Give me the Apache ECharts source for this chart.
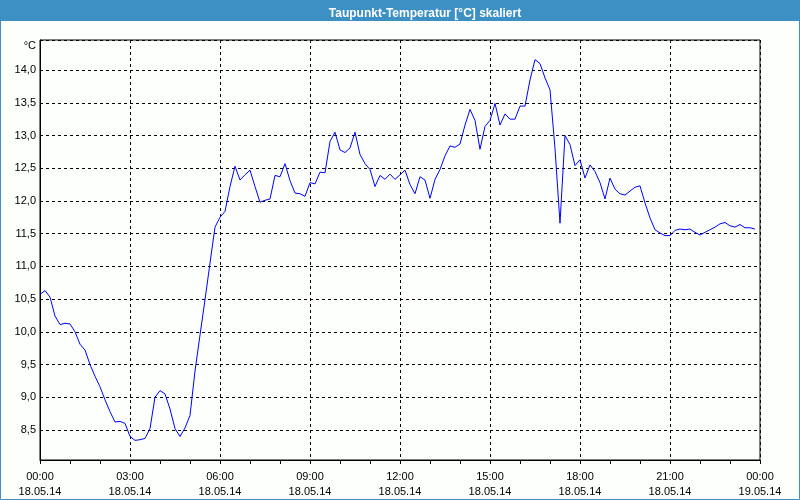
<!DOCTYPE html>
<html>
<head>
<meta charset="utf-8">
<script src="https://cdn.jsdelivr.net/npm/echarts@6/dist/echarts.min.js"></script>
<style>
html,body{margin:0;padding:0;background:#fcfffc;}
#chart{width:800px;height:500px;}
</style>
</head>
<body>
<div id="chart"></div>
<script>
// Dew point temperature, 10-minute samples from 18.05.14 00:00
var titleText = 'Taupunkt-Temperatur [°C] skaliert';
var unitLabel = '°C';
var startDate = '18.05.14';
var endDate = '19.05.14';
var sampleMinutes = 10;
var temps = [
  10.57, 10.63, 10.53, 10.24, 10.11, 10.13, 10.12, 10.00, 9.81, 9.72,
  9.50, 9.32, 9.16, 8.96, 8.78, 8.62, 8.63, 8.60, 8.40, 8.34,
  8.35, 8.37, 8.52, 9.00, 9.10, 9.05, 8.82, 8.52, 8.40, 8.53,
  8.72, 9.40, 9.95, 10.49, 11.05, 11.60, 11.75, 11.84, 12.22, 12.53,
  12.32, 12.40, 12.47, 12.22, 11.98, 12.01, 12.03, 12.39, 12.37, 12.57,
  12.31, 12.12, 12.11, 12.07, 12.28, 12.26, 12.44, 12.43, 12.91, 13.05,
  12.78, 12.74, 12.81, 13.05, 12.71, 12.57, 12.48, 12.22, 12.39, 12.33,
  12.41, 12.33, 12.40, 12.47, 12.25, 12.11, 12.37, 12.32, 12.04, 12.33,
  12.48, 12.69, 12.84, 12.82, 12.87, 13.16, 13.40, 13.23, 12.79, 13.14,
  13.23, 13.49, 13.16, 13.33, 13.25, 13.25, 13.45, 13.45, 13.85, 14.16,
  14.10, 13.88, 13.70, 12.80, 11.66, 13.00, 12.86, 12.54, 12.63, 12.35,
  12.55, 12.45, 12.28, 12.03, 12.35, 12.18, 12.11, 12.09, 12.15, 12.21,
  12.23, 11.97, 11.74, 11.56, 11.51, 11.47, 11.47, 11.55, 11.57, 11.56,
  11.57, 11.52, 11.48, 11.52, 11.56, 11.60, 11.65, 11.67, 11.62, 11.60,
  11.64, 11.59, 11.59, 11.57
];
var yMin = 8.04, yMax = 14.46;

var seriesData = temps.map(function (v, i) { return [i * sampleMinutes / 60, v]; });

var chart = echarts.init(document.getElementById('chart'), null, {renderer: 'canvas'});
var labelFont = {fontFamily: 'Liberation Sans, Arial, sans-serif', fontSize: 11, color: '#000'};

chart.setOption({
  animation: false,
  backgroundColor: '#fcfffc',
  title: {
    text: titleText,
    left: 420,
    top: 3,
    textAlign: 'center',
    textStyle: {color: '#ffffff', fontSize: 12, fontWeight: 'bold', fontFamily: 'Liberation Sans, Arial, sans-serif'}
  },
  graphic: [
    {type: 'rect', z: -1, shape: {x: 0, y: 0, width: 800, height: 21}, style: {fill: '#3d90c4'}},
    {type: 'rect', z: -1, shape: {x: 0.5, y: 0.5, width: 799, height: 499}, style: {fill: null, stroke: '#3d90c4', lineWidth: 1}},
    {type: 'text', x: 36, y: 46, style: {text: unitLabel, align: 'right', verticalAlign: 'middle', font: '11px Liberation Sans, Arial, sans-serif', fill: '#000'}}
  ],
  grid: {left: 40, right: 40, top: 40, bottom: 40, show: true, borderColor: '#000', borderWidth: 1, backgroundColor: 'transparent'},
  xAxis: {
    type: 'value',
    min: 0, max: 24, interval: 3,
    axisLine: {show: true, lineStyle: {color: '#000', width: 1}},
    axisTick: {show: true, length: 4, lineStyle: {color: '#000'}},
    minorTick: {show: true, splitNumber: 3, length: 4, lineStyle: {color: '#000'}},
    splitLine: {show: true, lineStyle: {color: '#000', type: [3, 3], width: 1}},
    axisLabel: Object.assign({
      margin: 9,
      lineHeight: 15,
      formatter: function (v) {
        var h = Math.round(v) % 24;
        var d = v >= 24 ? endDate : startDate;
        return (h < 10 ? '0' : '') + h + ':00\n' + d;
      }
    }, labelFont)
  },
  yAxis: {
    type: 'value',
    min: yMin, max: yMax,
    minInterval: 0.5, maxInterval: 0.5, splitNumber: 12,
    axisLine: {show: true, lineStyle: {color: '#000', width: 1}},
    axisTick: {show: false},
    splitLine: {show: true, lineStyle: {color: '#000', type: [3, 3], width: 1}},
    axisLabel: Object.assign({
      margin: 4,
      formatter: function (v) {
        if (Math.abs(v * 2 - Math.round(v * 2)) > 1e-6) return '';
        return v.toFixed(1).replace('.', ',');
      }
    }, labelFont)
  },
  series: [{
    type: 'line',
    data: seriesData,
    showSymbol: false,
    symbol: 'none',
    lineStyle: {color: '#0000ff', width: 1},
    itemStyle: {color: '#0000ff'},
    emphasis: {disabled: true}
  }]
});
</script>
</body>
</html>
